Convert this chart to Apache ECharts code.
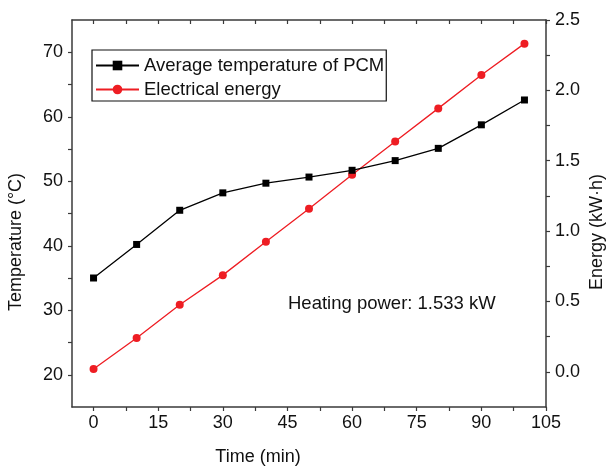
<!DOCTYPE html>
<html>
<head>
	<meta charset="utf-8"/>
	<title>Temperature and energy</title>
	<script src="https://cdn.jsdelivr.net/npm/echarts@6/dist/echarts.min.js"></script>
	<style>
		html, body { margin: 0; padding: 0; background: #fff; }
		#chart { width: 606px; height: 471px; }
	</style>
</head>
<body>
<div id="chart"></div>
<script>
    // 数据
    var timeMin = [0, 10, 20, 30, 40, 50, 60, 70, 80, 90, 100];
    var avgTemp = [35.0, 40.2, 45.5, 48.2, 49.7, 50.65, 51.7, 53.2, 55.1, 58.75, 62.6];
    var energy = [0.02, 0.24, 0.476, 0.687, 0.924, 1.159, 1.40, 1.637, 1.872, 2.109, 2.332];
    var xLabels = [0, 15, 30, 45, 60, 75, 90, 105];
    var xTicks = [0, 7.5, 15, 22.5, 30, 37.5, 45, 52.5, 60, 67.5, 75, 82.5, 90, 97.5, 105];
    var tempLabels = [20, 30, 40, 50, 60, 70];
    var tempTicks = [20, 25, 30, 35, 40, 45, 50, 55, 60, 65, 70];
    var energyLabels = [0, 0.5, 1.0, 1.5, 2.0, 2.5];
    var energyTicks = [0, 0.25, 0.5, 0.75, 1.0, 1.25, 1.5, 1.75, 2.0, 2.25, 2.5];

    var font = 'Liberation Sans, Arial, sans-serif';
    var axisColor = '#3a3a3a';

    function pairs(xs, ys) {
        return xs.map(function (x, i) { return [x, ys[i]]; });
    }

    var myChart = echarts.init(document.getElementById('chart'), null, {renderer: 'canvas'});
    var option = {
        animation: false,
        backgroundColor: '#fff',
        textStyle: { fontFamily: font },
        grid: { left: 72, right: 60, top: 20, bottom: 64, containLabel: false },
        legend: {
            orient: 'vertical',
            left: 92,
            top: 50,
            padding: [6, 2, 2, 3],
            itemGap: 5,
            itemWidth: 43,
            itemHeight: 12,
            borderColor: '#111',
            borderWidth: 1.2,
            borderRadius: 0,
            textStyle: { fontSize: 18.5, color: '#111', fontFamily: font, lineHeight: 19 },
            data: ['Average temperature of PCM', 'Electrical energy']
        },
        xAxis: [{
            type: 'value',
            position: 'bottom',
            min: -5,
            max: 105,
            splitLine: { show: false },
            axisLine: { onZero: false, lineStyle: { color: axisColor, width: 1.5 } },
            axisTick: { customValues: xTicks, length: 4, lineStyle: { color: axisColor, width: 1.2 } },
            axisLabel: { customValues: xLabels, fontSize: 18, color: '#111', margin: 7 }
        }, {
            type: 'value',
            position: 'top',
            min: -5,
            max: 105,
            splitLine: { show: false },
            axisLine: { onZero: false, lineStyle: { color: axisColor, width: 1.5 } },
            axisTick: { customValues: xTicks, inside: true, length: 4, lineStyle: { color: axisColor, width: 1.2 } },
            axisLabel: { show: false }
        }],
        yAxis: [{
            type: 'value',
            position: 'left',
            min: 15,
            max: 75,
            splitLine: { show: false },
            axisLine: { show: true, onZero: false, lineStyle: { color: axisColor, width: 1.5 } },
            axisTick: { show: true, customValues: tempTicks, length: 4, lineStyle: { color: axisColor, width: 1.2 } },
            axisLabel: { customValues: tempLabels, fontSize: 18, color: '#111', margin: 9 }
        }, {
            type: 'value',
            position: 'right',
            min: -0.25,
            max: 2.5,
            splitLine: { show: false },
            axisLine: { show: true, onZero: false, lineStyle: { color: axisColor, width: 1.5 } },
            axisTick: { show: true, customValues: energyTicks, length: 4, lineStyle: { color: axisColor, width: 1.2 } },
            axisLabel: {
                customValues: energyLabels, fontSize: 18, color: '#111', margin: 9,
                formatter: function (v) { return v.toFixed(1); }
            }
        }],
        graphic: [{
            type: 'text',
            x: 16, y: 242,
            rotation: Math.PI / 2,
            style: { text: 'Temperature (°C)', font: '18px ' + font, fill: '#111', align: 'center', verticalAlign: 'middle' }
        }, {
            type: 'text',
            x: 597, y: 232,
            rotation: Math.PI / 2,
            style: { text: 'Energy (kW·h)', font: '18px ' + font, fill: '#111', align: 'center', verticalAlign: 'middle' }
        }, {
            type: 'text',
            x: 258, y: 457,
            style: { text: 'Time (min)', font: '18px ' + font, fill: '#111', align: 'center', verticalAlign: 'middle' }
        }, {
            type: 'text',
            x: 288, y: 304,
            style: { text: 'Heating power: 1.533 kW', font: '18.5px ' + font, fill: '#111', align: 'left', verticalAlign: 'middle' }
        }],
        series: [{
            name: 'Average temperature of PCM',
            type: 'line',
            xAxisIndex: 0,
            yAxisIndex: 0,
            symbol: 'rect',
            symbolSize: 7,
            z: 3,
            lineStyle: { color: '#000', width: 1.3 },
            itemStyle: { color: '#000' },
            data: pairs(timeMin, avgTemp)
        }, {
            name: 'Electrical energy',
            type: 'line',
            xAxisIndex: 0,
            yAxisIndex: 1,
            symbol: 'circle',
            symbolSize: 8,
            z: 2,
            lineStyle: { color: '#ee1d23', width: 1.3 },
            itemStyle: { color: '#ee1d23' },
            data: pairs(timeMin, energy)
        }]
    };
    myChart.setOption(option);
</script>
</body>
</html>
